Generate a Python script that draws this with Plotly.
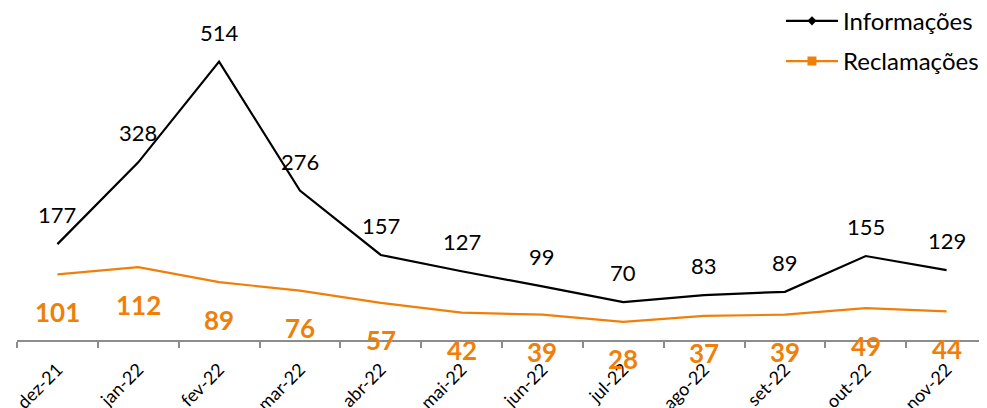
import plotly.graph_objects as go

months = ["dez-21", "jan-22", "fev-22", "mar-22", "abr-22", "mai-22",
          "jun-22", "jul-22", "ago-22", "set-22", "out-22", "nov-22"]
informacoes = [177, 328, 514, 276, 157, 127, 99, 70, 83, 89, 155, 129]
reclamacoes = [101, 112, 89, 76, 57, 42, 39, 28, 37, 39, 49, 44]

BLACK = "#000000"
ORANGE = "#F07F09"
FONT = "Lato"

fig = go.Figure()

fig.add_trace(go.Scatter(x=months, y=informacoes, mode="lines",
                         line=dict(color=BLACK, width=2.2), showlegend=False,
                         yaxis="y"))
fig.add_trace(go.Scatter(x=months, y=reclamacoes, mode="lines",
                         line=dict(color=ORANGE, width=2.2), showlegend=False,
                         yaxis="y2"))

# legend-only entries (line with marker, as in the reference legend)
fig.add_trace(go.Scatter(x=[None], y=[None], mode="lines+markers", name="Informações",
                         line=dict(color=BLACK, width=2.2),
                         marker=dict(symbol="diamond", size=7, color=BLACK),
                         legendgroup="a"))
fig.add_trace(go.Scatter(x=[None], y=[None], mode="lines+markers", name="Reclamações",
                         line=dict(color=ORANGE, width=2.2),
                         marker=dict(symbol="square", size=9, color=ORANGE),
                         legendgroup="b"))

annotations = []
for m, v in zip(months, informacoes):
    annotations.append(dict(x=m, y=v, xref="x", yref="y", text=str(v), showarrow=False,
                            yanchor="middle", yshift=29.5,
                            font=dict(family=FONT, size=22, color=BLACK)))
for m, v in zip(months, reclamacoes):
    annotations.append(dict(x=m, y=v, xref="x", yref="y2", text="<b>%d</b>" % v, showarrow=False,
                            yanchor="middle", yshift=-37.5,
                            font=dict(family=FONT, size=26, color=ORANGE)))

fig.update_layout(
    width=979, height=400,
    margin=dict(l=9, r=0, t=7, b=68, autoexpand=False),
    paper_bgcolor="white", plot_bgcolor="white",
    font=dict(family=FONT, color=BLACK),
    xaxis=dict(type="category", range=[-0.5, len(months) - 0.5],
               showgrid=False, showline=True, linecolor="#8C8C8C",
               linewidth=2, ticks="outside", tickson="boundaries", ticklen=6,
               tickcolor="#8C8C8C", tickwidth=2, tickangle=-45, ticklabelstandoff=10,
               tickfont=dict(family=FONT, size=18, color=BLACK), automargin=False),
    yaxis=dict(range=[0, 600], visible=False, showgrid=False),
    yaxis2=dict(range=[0, 500], overlaying="y", visible=False, showgrid=False),
    legend=dict(x=0.7876, y=1.050, xanchor="left", yanchor="top",
                font=dict(family=FONT, size=24, color=BLACK),
                bgcolor="rgba(0,0,0,0)", tracegroupgap=6, itemwidth=52),
    annotations=annotations,
)

fig.write_html("out.html")
